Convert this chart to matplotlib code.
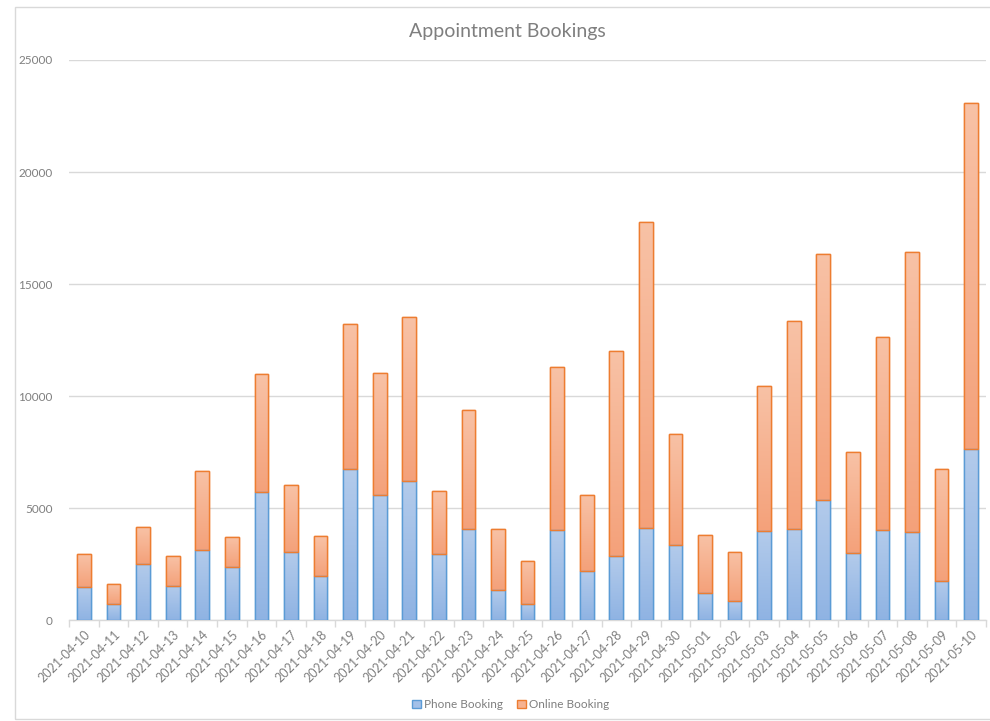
import numpy as np
import matplotlib
matplotlib.use("Agg")
import matplotlib.pyplot as plt
from matplotlib.colors import LinearSegmentedColormap
from matplotlib.patches import Rectangle, Patch

dates = ["2021-04-10", "2021-04-11", "2021-04-12", "2021-04-13", "2021-04-14", "2021-04-15",
         "2021-04-16", "2021-04-17", "2021-04-18", "2021-04-19", "2021-04-20", "2021-04-21",
         "2021-04-22", "2021-04-23", "2021-04-24", "2021-04-25", "2021-04-26", "2021-04-27",
         "2021-04-28", "2021-04-29", "2021-04-30", "2021-05-01", "2021-05-02", "2021-05-03",
         "2021-05-04", "2021-05-05", "2021-05-06", "2021-05-07", "2021-05-08", "2021-05-09",
         "2021-05-10"]
phone = [1480, 700, 2520, 1530, 3140, 2350, 5730, 3040, 1960, 6740, 5580, 6200, 2930, 4060,
         1340, 700, 4020, 2170, 2840, 4110, 3330, 1220, 830, 3960, 4070, 5340, 2990, 4010,
         3910, 1760, 7620]
total = [2950, 1590, 4140, 2840, 6670, 3690, 10980, 6010, 3740, 13220, 11040, 13510, 5770,
         9380, 4080, 2620, 11280, 5580, 12010, 17750, 8300, 3780, 3030, 10460, 13340, 16340,
         7480, 12620, 16430, 6760, 23060]
online = [t - p for t, p in zip(total, phone)]
yticks = [0, 5000, 10000, 15000, 20000, 25000]

TXT = "#7f7f7f"
plt.rcParams['font.family'] = ['Lato', 'DejaVu Sans']
fig = plt.figure(figsize=(9.9, 7.21), dpi=100)
ax = fig.add_axes([0.0699, 0.140, 0.926, 0.7768])

x = np.arange(len(dates))
w = 0.46
blue_cmap = LinearSegmentedColormap.from_list("b", ["#8fb3e3", "#b3cbeb"])
orange_cmap = LinearSegmentedColormap.from_list("o", ["#f4a17a", "#f8c2a6"])

b1 = ax.bar(x, phone, w, color="#a3c0e8", edgecolor="#5b9bd5", linewidth=1.0, zorder=3)
b2 = ax.bar(x, online, w, bottom=phone, color="#f6b291", edgecolor="#ed7d31", linewidth=1.0, zorder=3)

grad = np.linspace(0, 1, 256).reshape(-1, 1)
for bars, cmap in ((b1, blue_cmap), (b2, orange_cmap)):
    for p in bars:
        x0, y0 = p.get_x(), p.get_y()
        ww, hh = p.get_width(), p.get_height()
        im = ax.imshow(grad, cmap=cmap, aspect="auto", origin="lower",
                       extent=[x0, x0 + ww, y0, y0 + hh], zorder=3.5)
        im.set_clip_path(p)
        edge = Rectangle((x0, y0), ww, hh, fill=False, edgecolor=p.get_edgecolor(),
                         linewidth=1.0, zorder=4)
        ax.add_patch(edge)

ax.set_xlim(-0.5, len(dates) - 0.5)
ax.set_ylim(0, 25000)
ax.set_aspect("auto")
ax.set_yticks(yticks)
ax.set_yticklabels([str(v) for v in yticks])
ax.yaxis.grid(True, color="#d9d9d9", linewidth=1.0, zorder=0)
ax.set_axisbelow(True)
for s in ["top", "right", "left"]:
    ax.spines[s].set_visible(False)
ax.spines["bottom"].set_color("#d9d9d9")
ax.spines["bottom"].set_linewidth(1.0)
ax.tick_params(axis="y", length=0, pad=12, labelsize=8.5, labelcolor=TXT)

ax.set_xticks(x)
ax.set_xticklabels(dates, rotation=45, ha="right", rotation_mode="anchor",
                   fontsize=9, color=TXT)
ax.tick_params(axis="x", length=0, pad=6)
ax.set_xticks(np.arange(-0.5, len(dates) + 0.5, 1), minor=True)
ax.tick_params(axis="x", which="minor", length=5, color="#d9d9d9", width=1)

fig.text(0.513, 0.957, "Appointment Bookings", ha="center", va="center",
         fontsize=14, color=TXT)

handles = [Patch(facecolor="#a3c0e8", edgecolor="#5b9bd5", label="Phone Booking"),
           Patch(facecolor="#f6b291", edgecolor="#ed7d31", label="Online Booking")]
leg = fig.legend(handles=handles, loc="center", bbox_to_anchor=(0.516, 0.023), ncol=2,
                 frameon=False, fontsize=8.5, handlelength=0.7, handleheight=0.7,
                 handletextpad=0.3, columnspacing=1.2)
for t in leg.get_texts():
    t.set_color(TXT)

border = Rectangle((15 / 990, 1 - 719 / 721), 1.2, 712 / 721, transform=fig.transFigure,
                   fill=False, edgecolor="#d9d9d9", linewidth=1.0)
fig.patches.append(border)

fig.savefig("out.png", dpi=100)
